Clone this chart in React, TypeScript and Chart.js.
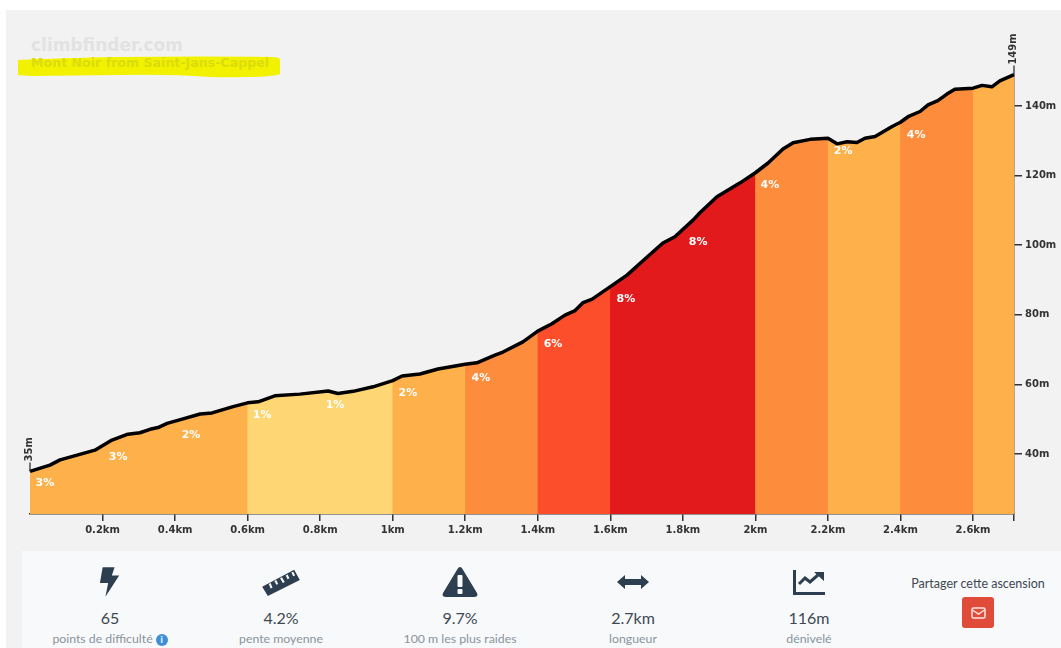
import React, { useEffect, useRef } from "react";
import { Chart, registerables } from "chart.js";

Chart.register(...registerables);

const profileKm = [0, 0.055, 0.083, 0.179, 0.226, 0.27, 0.303, 0.331, 0.353, 0.378, 0.422, 0.469, 0.502, 0.56, 0.6, 0.629, 0.675, 0.744, 0.822, 0.849, 0.891, 0.946, 1, 1.026, 1.075, 1.125, 1.2, 1.232, 1.282, 1.304, 1.359, 1.4, 1.439, 1.475, 1.503, 1.525, 1.55, 1.6, 1.646, 1.69, 1.745, 1.778, 1.828, 1.847, 1.894, 1.958, 2, 2.035, 2.076, 2.104, 2.151, 2.2, 2.225, 2.253, 2.28, 2.302, 2.33, 2.377, 2.4, 2.421, 2.454, 2.476, 2.503, 2.528, 2.55, 2.6, 2.625, 2.652, 2.674, 2.713];
const profileM = [35, 36.8, 38.3, 41.1, 44, 45.7, 46.1, 47.1, 47.6, 48.8, 50.1, 51.5, 51.8, 53.6, 54.7, 55, 56.7, 57.2, 58.1, 57.4, 58, 59.3, 61.1, 62.4, 63, 64.4, 65.8, 66.2, 68.4, 69.3, 72.2, 75.3, 77.4, 79.9, 81.2, 83.5, 84.5, 88.1, 91.4, 95.5, 100.6, 102.4, 107.2, 109.3, 113.9, 117.9, 120.8, 123.6, 127.6, 129.4, 130.4, 130.7, 129.1, 129.7, 129.5, 130.7, 131.2, 134.1, 135.3, 136.9, 138.4, 140.3, 141.5, 143.4, 144.8, 145.1, 145.9, 145.5, 147.2, 149];

const bandStart = [0, 0.6, 1, 1.2, 1.4, 1.6, 2, 2.2, 2.4, 2.6];
const bandEnd = [0.6, 1, 1.2, 1.4, 1.6, 2, 2.2, 2.4, 2.6, 2.713];
const bandColor = ["#feb04a", "#fed673", "#feb04a", "#fd8c3c", "#fc4e2a", "#e31a1c", "#fd8c3c", "#feb04a", "#fd8c3c", "#feb04a"];

const gradeText = ["3%", "3%", "2%", "1%", "1%", "2%", "4%", "6%", "8%", "8%", "4%", "2%", "4%"];
const gradeKm = [0.041, 0.243, 0.444, 0.64, 0.841, 1.042, 1.243, 1.442, 1.643, 1.842, 2.04, 2.242, 2.443];
const gradeM = [31.7, 39.1, 45.5, 51.2, 54.1, 57.5, 61.8, 71.6, 84.5, 100.9, 117.3, 127.1, 131.7];

const xTicks = [0.2, 0.4, 0.6, 0.8, 1, 1.2, 1.4, 1.6, 1.8, 2, 2.2, 2.4, 2.6, 2.713];
const yTicks = [40, 60, 80, 100, 120, 140];

const pts = profileKm.map((x, i) => ({ x, y: profileM[i] }));

// Each band also covers the profile point just before it, underneath the previous band, so no seam shows.
function bandPoints(start: number, end: number) {
  const first = pts.findIndex((p) => p.x >= start);
  return pts.filter((p, i) => i >= Math.max(0, first - 1) && p.x <= end);
}

const labelsPlugin = {
  id: "profileLabels",
  afterDatasetsDraw(chart: any) {
    const { ctx, scales } = chart;
    const sx = scales.x;
    const sy = scales.y;
    ctx.save();
    ctx.font = "bold 11px 'DejaVu Sans'";
    ctx.fillStyle = "#ffffff";
    ctx.textAlign = "center";
    ctx.textBaseline = "middle";
    gradeText.forEach((t, i) => ctx.fillText(t, sx.getPixelForValue(gradeKm[i]), sy.getPixelForValue(gradeM[i])));
    const ends = [
      { text: "35m", km: profileKm[0], m: profileM[0] },
      { text: "149m", km: profileKm[profileKm.length - 1], m: profileM[profileM.length - 1] },
    ];
    ends.forEach((e) => {
      const px = sx.getPixelForValue(e.km);
      const py = sy.getPixelForValue(e.m);
      ctx.strokeStyle = "#222";
      ctx.lineWidth = 1.2;
      ctx.beginPath();
      ctx.moveTo(px, py);
      ctx.lineTo(px, py - 9);
      ctx.stroke();
      ctx.save();
      ctx.translate(px - 1, py - 10);
      ctx.rotate(-Math.PI / 2);
      ctx.font = "bold 10px 'DejaVu Sans'";
      ctx.fillStyle = "#333";
      ctx.textAlign = "left";
      ctx.textBaseline = "middle";
      ctx.fillText(e.text, 0, 0);
      ctx.restore();
    });
    ctx.restore();
  },
};

const stats = [
  { cx: 110, value: "65", label: "points de difficulté", icon: "bolt" },
  { cx: 281, value: "4.2%", label: "pente moyenne", icon: "ruler" },
  { cx: 460, value: "9.7%", label: "100 m les plus raides", icon: "warn" },
  { cx: 633, value: "2.7km", label: "longueur", icon: "arrows" },
  { cx: 809, value: "116m", label: "dénivelé", icon: "chart" },
];

const NAVY = "#2c3e50";

function Icon({ name }: { name: string }) {
  if (name === "bolt")
    return (
      <svg width="22" height="32" viewBox="0 0 24 34">
        <path d="M4 1 H17 L14 10 H22 L7 33 L10 18 H1 Z" fill={NAVY} />
      </svg>
    );
  if (name === "ruler")
    return (
      <svg width="40" height="32" viewBox="0 0 42 34">
        <path d="M1 22 L35 4 L41 15 L7 32 Z M8 19 L10 24 L12 23 L10 18 Z M14 16 L16 20 L18 19 L16 15 Z M20 13 L23 18 L25 17 L22 12 Z M26 10 L28 14 L30 13 L28 9 Z M32 7 L34 11 L36 10 L34 6 Z" fill={NAVY} fillRule="evenodd" />
      </svg>
    );
  if (name === "warn")
    return (
      <svg width="36" height="32" viewBox="0 0 36 32">
        <path d="M18 1 Q19.500 1 20.500 3 L35 27 Q36.500 31 32 31 H4 Q-0.500 31 1 27 L15.500 3 Q16.500 1 18 1 Z" fill={NAVY} />
        <rect x="15.500" y="9" width="5" height="12" rx="1" fill="#f8f9fa" />
        <rect x="15.500" y="23" width="5" height="5" rx="1" fill="#f8f9fa" />
      </svg>
    );
  if (name === "arrows")
    return (
      <svg width="32" height="16" viewBox="0 0 32 16">
        <path d="M0 8 L8 1 V5 H24 V1 L32 8 L24 15 V11 H8 V15 Z" fill={NAVY} />
      </svg>
    );
  return (
    <svg width="32" height="25" viewBox="0 0 32 25">
      <path d="M0 0 H3 V22 H32 V25 H0 Z" fill={NAVY} />
      <path d="M6 14 L12 8 L17 12 L25 5" fill="none" stroke={NAVY} strokeWidth="3" />
      <path d="M21 2 H31 V11 Z" fill={NAVY} />
    </svg>
  );
}

export default function App() {
  const ref = useRef<HTMLCanvasElement>(null);

  useEffect(() => {
    document.body.style.margin = "0";
    document.body.style.background = "#ffffff";
    const chart = new Chart(ref.current as HTMLCanvasElement, {
      type: "line",
      data: {
        datasets: [
          {
            label: "profile",
            data: pts,
            borderColor: "#000000",
            borderWidth: 3.5,
            pointRadius: 0,
            tension: 0,
            fill: false,
            order: 0,
            borderJoinStyle: "round",
          } as any,
          ...bandStart.map((s, i) => ({
            label: "band" + i,
            data: bandPoints(s, bandEnd[i]),
            borderWidth: 0,
            borderColor: bandColor[i],
            backgroundColor: bandColor[i],
            pointRadius: 0,
            tension: 0,
            fill: "start",
            order: 1,
          })),
        ],
      },
      options: {
        animation: false,
        responsive: false,
        clip: false as any,
        layout: { padding: { left: 30, top: 74.6, right: 0, bottom: 0 } },
        plugins: { legend: { display: false }, tooltip: { enabled: false } },
        scales: {
          x: {
            type: "linear",
            min: 0,
            max: 2.713,
            afterBuildTicks: (a: any) => {
              a.ticks = xTicks.map((value) => ({ value }));
            },
            afterFit: (a: any) => {
              a.height = 31;
            },
            border: { color: "#333", width: 1.5 },
            grid: { drawOnChartArea: false, color: "#333", tickLength: 7, lineWidth: 1.5 },
            ticks: {
              autoSkip: false,
              maxRotation: 0,
              padding: 3,
              color: "#333",
              font: { family: "'DejaVu Sans'", weight: "bold", size: 10 },
              callback: (v: any) => (v > 2.7 ? "" : `${v}km`),
            },
          },
          y: {
            type: "linear",
            position: "right",
            min: 22.76,
            max: 149,
            afterBuildTicks: (a: any) => {
              a.ticks = yTicks.map((value) => ({ value }));
            },
            afterFit: (a: any) => {
              a.width = 47;
            },
            border: { color: "#6a5a4c", width: 1.5 },
            grid: { drawOnChartArea: false, color: "#333", tickLength: 8, lineWidth: 1.5 },
            ticks: {
              padding: 3,
              color: "#333",
              font: { family: "'DejaVu Sans'", weight: "bold", size: 10 },
              callback: (v: any) => `${v}m`,
            },
          },
        },
      },
      plugins: [labelsPlugin],
    } as any);
    return () => chart.destroy();
  }, []);

  return (
    <div style={{ position: "relative", width: 1061, height: 648, overflow: "hidden", fontFamily: "Lato, sans-serif" }}>
      <div style={{ position: "absolute", left: 6, top: 10, right: 0, bottom: 0, background: "#f2f2f2" }} />
      <svg width="1061" height="100" style={{ position: "absolute", left: 0, top: 0 }}>
        <path d="M18 60 Q60 58 120 57 Q200 56 272 57 Q280 57 280 60 L280 74 Q270 78 210 77 Q170 74 120 75 L30 76 L18 75 Z" fill="#f2f200" />
      </svg>
      <div style={{ position: "absolute", left: 31, top: 34, fontFamily: "'DejaVu Sans'", fontWeight: 700, fontSize: 17, lineHeight: "22px", color: "#e2e2e2", whiteSpace: "nowrap" }}>climbfinder.com</div>
      <div style={{ position: "absolute", left: 31, top: 55, fontFamily: "'DejaVu Sans'", fontWeight: 700, fontSize: 12.6, lineHeight: "16px", color: "#dcdc0a", whiteSpace: "nowrap" }}>Mont Noir from Saint-Jans-Cappel</div>
      <canvas ref={ref} width={1061} height={545} style={{ position: "absolute", left: 0, top: 0 }} />
      <div style={{ position: "absolute", left: 22, top: 551, right: 0, bottom: 0, background: "#f8f9fa" }} />
      {stats.map((s) => (
        <React.Fragment key={s.label}>
          <div style={{ position: "absolute", left: s.cx - 40, width: 80, top: 562, height: 40, display: "flex", alignItems: "center", justifyContent: "center" }}>
            <Icon name={s.icon} />
          </div>
          <div style={{ position: "absolute", left: s.cx - 60, width: 120, top: 608, textAlign: "center", fontSize: 16, lineHeight: "20px", color: "#3d4852" }}>{s.value}</div>
          <div style={{ position: "absolute", left: s.cx - 90, width: 180, top: 631, textAlign: "center", fontSize: 12.3, lineHeight: "16px", color: "#8a949c", whiteSpace: "nowrap" }}>
            {s.label}
            {s.icon === "bolt" ? (
              <span style={{ display: "inline-block", width: 12, height: 12, borderRadius: 6, background: "#3f8fd6", color: "#fff", fontSize: 9, lineHeight: "12px", marginLeft: 3, fontWeight: 700, verticalAlign: "0px", textAlign: "center" }}>i</span>
            ) : null}
          </div>
        </React.Fragment>
      ))}
      <div style={{ position: "absolute", left: 888, width: 180, top: 576, textAlign: "center", fontSize: 12.5, lineHeight: "16px", color: "#3d4852", whiteSpace: "nowrap" }}>Partager cette ascension</div>
      <div style={{ position: "absolute", left: 962, top: 597, width: 32, height: 31, borderRadius: 3, background: "#e04b3a", display: "flex", alignItems: "center", justifyContent: "center" }}>
        <svg width="15" height="12" viewBox="0 0 15 12">
          <rect x="1" y="1" width="13" height="10" rx="1.500" fill="none" stroke="#fbe6e3" strokeWidth="1.500" />
          <path d="M1.500 3 L7.500 7 L13.500 3" fill="none" stroke="#fbe6e3" strokeWidth="1.500" />
        </svg>
      </div>
    </div>
  );
}
